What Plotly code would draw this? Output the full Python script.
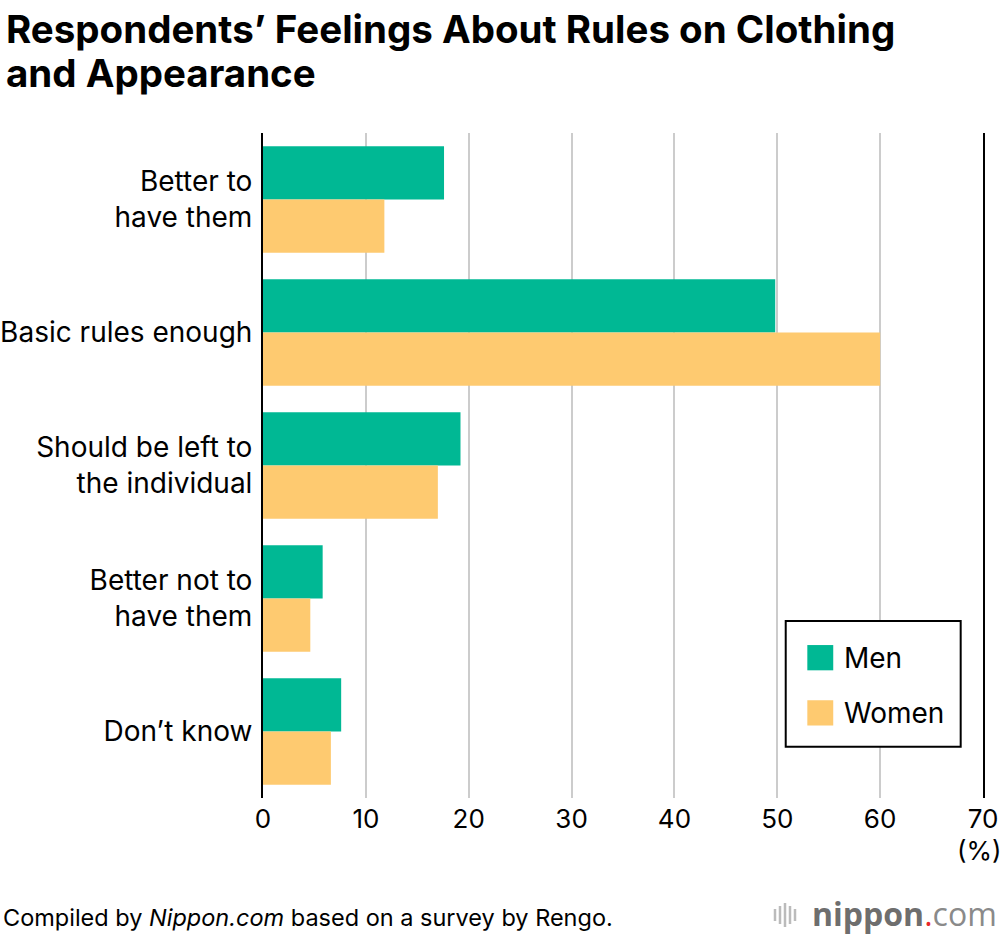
import plotly.graph_objects as go

categories = ["Better to<br>have them", "Basic rules enough", "Should be left to<br>the individual",
              "Better not to<br>have them", "Don’t know"]
men = [17.6, 49.8, 19.2, 5.8, 7.6]
women = [11.8, 60.0, 17.0, 4.6, 6.6]
series_names = ["Men", "Women"]
colors = ["#00B894", "#FECA70"]
x_ticks = [0, 10, 20, 30, 40, 50, 60, 70]

FONT = "Inter, Liberation Sans, Arial, sans-serif"

fig = go.Figure()
for name, vals, col in zip(series_names, [men, women], colors):
    fig.add_trace(go.Bar(y=categories, x=vals, name=name, orientation="h",
                         marker=dict(color=col, line=dict(width=0)), showlegend=False))

fig.update_layout(
    width=1000, height=936,
    margin=dict(l=263, r=17, t=133, b=138, autoexpand=False),
    paper_bgcolor="white", plot_bgcolor="white",
    barmode="group", bargap=0.2, bargroupgap=0,
    font=dict(family=FONT, color="black"),
    xaxis=dict(range=[0, 70], tickvals=x_ticks, showgrid=True, gridcolor="#CCCCCC", gridwidth=2,
               zeroline=False, showline=False, tickfont=dict(size=26), ticks="",
               ticklabelstandoff=3, automargin=False, fixedrange=True),
    yaxis=dict(autorange="reversed", showline=True, mirror=True, linecolor="black", linewidth=2,
               showgrid=False, tickfont=dict(size=28), ticks="", ticklabelstandoff=3,
               automargin=False, fixedrange=True),
)

# title (two lines)
title_lines = ["Respondents’ Feelings About Rules on Clothing", "and Appearance"]
for line, yc in zip(title_lines, [29, 73]):
    fig.add_annotation(text="<b>" + line + "</b>",
                       xref="paper", yref="paper", x=(4 - 263) / 720, y=(798 - yc) / 665,
                       xanchor="left", yanchor="middle", align="left", showarrow=False,
                       font=dict(size=38.5, family=FONT, color="black"))

# custom legend
fig.add_shape(type="rect", xref="paper", yref="paper", x0=0.726, x1=0.969, y0=0.077, y1=0.266,
              line=dict(color="black", width=2), fillcolor="white", layer="above")
legend_y = [0.211, 0.128]
for name, col, yy in zip(series_names, colors, legend_y):
    fig.add_shape(type="rect", xref="paper", yref="paper", x0=0.756, x1=0.792,
                  y0=yy - 0.019, y1=yy + 0.019, line=dict(width=0), fillcolor=col, layer="above")
    fig.add_annotation(text=name, xref="paper", yref="paper", x=0.804, y=yy, xanchor="left",
                       yanchor="middle", showarrow=False, font=dict(size=28, family=FONT))

fig.add_annotation(text="(%)", xref="paper", yref="paper", x=(979 - 263) / 720, y=(798 - 850) / 665,
                   xanchor="center", yanchor="middle", showarrow=False, font=dict(size=26, family=FONT))

fig.add_annotation(text="Compiled by <i>Nippon.com</i> based on a survey by Rengo.",
                   xref="paper", yref="paper", x=(1 - 263) / 720, y=(798 - 917) / 665,
                   xanchor="left", yanchor="middle", showarrow=False, font=dict(size=23.5, family=FONT))

# logo
fig.add_annotation(text="<b><span style='color:#6E6E6E'>nippon</span></b><span style='color:#E8272A'>.</span><span style='color:#8a8a8a'>com</span>",
                   xref="paper", yref="paper", x=(999 - 263) / 720, y=(798 - 913) / 665,
                   xanchor="right", yanchor="middle", showarrow=False,
                   font=dict(size=32, family="Open Sans, sans-serif"))
bar_x = [775, 780, 785, 790, 795]
bar_h = [12, 18, 24, 18, 12]
for bx, bh in zip(bar_x, bar_h):
    fig.add_shape(type="line", xref="paper", yref="paper",
                  x0=(bx - 263) / 720, x1=(bx - 263) / 720,
                  y0=(798 - (915 - bh / 2)) / 665, y1=(798 - (915 + bh / 2)) / 665,
                  line=dict(color="#BBBBBB", width=2.5))

fig.write_html("out.html", config={"displayModeBar": False},
               post_script="document.body.style.margin='0';document.body.style.overflow='hidden';")
